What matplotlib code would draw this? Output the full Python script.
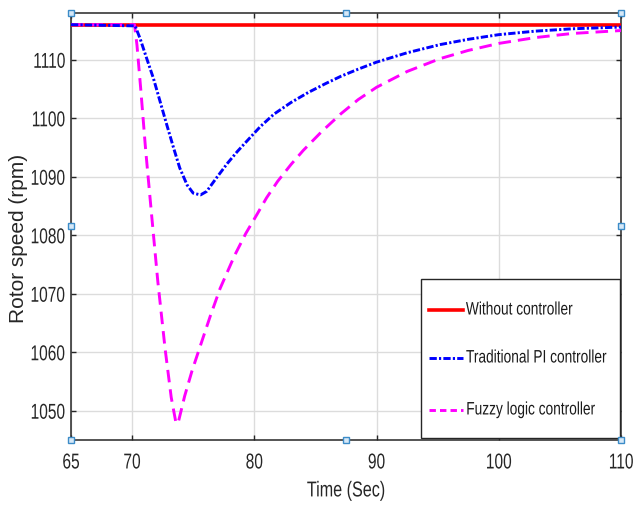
import matplotlib.pyplot as plt
from matplotlib import patheffects
from matplotlib.patches import Rectangle
from matplotlib.lines import Line2D
from matplotlib.transforms import Affine2D, Bbox

# Rotor speed response after a load disturbance at t = 70 s
t_none = [65, 110]
rpm_none = [1116, 1116]

t_pi = [65, 70.25, 70.66, 71.2, 71.75, 72.3, 72.85, 73.4, 73.9, 74.5, 75.0,
        75.6, 76.1, 76.9, 77.8, 78.6, 79.7, 80.5, 81.6, 83.0, 84.4, 85.8,
        87.1, 88.5, 90.0, 92.5, 95.2, 97.5, 100.0, 103.0, 106.0, 110.0]
rpm_pi = [1116, 1115.8, 1113.6, 1110.2, 1106.8, 1102.8, 1098.8, 1094.9,
          1091.5, 1088.6, 1087.2, 1086.9, 1087.5, 1089.8, 1092.3, 1094.3,
          1096.8, 1098.6, 1100.7, 1102.7, 1104.4, 1105.9, 1107.2, 1108.4,
          1109.6, 1111.2, 1112.6, 1113.5, 1114.3, 1114.9, 1115.3, 1115.6]

t_fuzzy = [65, 70.2, 70.4, 70.7, 71.1, 71.6, 72.1, 72.7, 73.2, 73.6, 73.8,
           74.3, 74.9, 75.6, 76.4, 77.2, 78.4, 79.3, 80.2, 81.0, 81.9, 83.0,
           84.0, 85.5, 87.1, 88.5, 90.0, 92.5, 95.2, 97.5, 100.0, 103.0,
           106.0, 110.0]
rpm_fuzzy = [1116, 1116, 1112.5, 1105.2, 1094.8, 1083.4, 1072.2, 1060.6,
             1052.3, 1047.8, 1048.2, 1052.5, 1056.8, 1061.2, 1066.2, 1070.9,
             1076.6, 1080.3, 1083.5, 1086.4, 1089.2, 1092.1, 1094.5, 1097.7,
             1100.8, 1103.2, 1105.3, 1108.0, 1110.2, 1111.6, 1112.8, 1113.8,
             1114.5, 1115.0]

labels = ['Without controller', 'Traditional PI controller', 'Fuzzy logic controller']
x_ticks = [65, 70, 80, 90, 100, 110]
y_ticks = [1050, 1060, 1070, 1080, 1090, 1100, 1110]


class Condense(patheffects.AbstractPathEffect):
    """Squeeze text horizontally along its baseline."""

    def __init__(self, sx=0.75, anchor='center'):
        super().__init__()
        self.sx = sx
        self.anchor = anchor

    def draw_path(self, renderer, gc, tpath, affine, rgbFace=None):
        ext = tpath.get_extents()
        if self.anchor == 'right':
            cx = ext.x1
        elif self.anchor == 'left':
            cx = ext.x0
        else:
            cx = 0.5 * (ext.x0 + ext.x1)
        t = Affine2D().translate(-cx, 0).scale(self.sx, 1).translate(cx, 0) + affine
        renderer.draw_path(gc, tpath, t, rgbFace)


def squeeze(text, sx, anchor='center'):
    # narrow glyphs and report the narrowed box for layout
    text.set_path_effects([Condense(sx, anchor)])
    full_extent = text.get_window_extent

    def extent(renderer=None, dpi=None):
        bb = full_extent(renderer, dpi)
        w = bb.width * sx
        if anchor == 'right':
            x0 = bb.x1 - w
        elif anchor == 'left':
            x0 = bb.x0
        else:
            x0 = 0.5 * (bb.x0 + bb.x1) - 0.5 * w
        return Bbox.from_bounds(x0, bb.y0, w, bb.height)

    text.get_window_extent = extent


plt.rcParams['font.family'] = ['Liberation Sans', 'DejaVu Sans']
ink = '#262626'

fig = plt.figure(figsize=(6.36, 5.08), dpi=100)
ax = fig.add_axes([0.1116, 0.1339, 0.8648, 0.8405])

ax.plot(t_none, rpm_none, color='#ff0000', lw=2.6, zorder=3)
ax.plot(t_fuzzy, rpm_fuzzy, color='#ff00ff', lw=2.1, dashes=(4.3, 2.4), zorder=4)
ax.plot(t_pi, rpm_pi, color='#0000ff', lw=2.1, dashes=(2.5, 0.75, 0.75, 0.75), zorder=5)

ax.set_xlim(65, 110)
ax.set_ylim(1045, 1118)
ax.set_xticks(x_ticks)
ax.set_yticks(y_ticks)
ax.tick_params(direction='in', length=3.6, width=1, colors=ink,
               labelsize=15.5, top=True, right=True)
ax.tick_params(axis='x', pad=9)
ax.tick_params(axis='y', pad=4)
ax.grid(True, color='#dcdcdc', lw=1)
for s in ax.spines.values():
    s.set_color(ink)
    s.set_linewidth(1.1)

for lab in ax.get_xticklabels():
    squeeze(lab, 0.72, 'center')
for lab in ax.get_yticklabels():
    squeeze(lab, 0.72, 'right')

ax.set_xlabel('Time (Sec)', fontsize=15.5, color=ink, labelpad=5)
squeeze(ax.xaxis.label, 0.75, 'center')
ax.set_ylabel('Rotor speed (rpm)', fontsize=15, color=ink)
ax.yaxis.set_label_coords(-0.079, 0.471)

# legend box in the lower right corner
ax.add_patch(Rectangle((0.6364, 0.0047), 0.3618, 0.3724, transform=ax.transAxes,
                       facecolor='white', edgecolor=ink, lw=1.0, zorder=10))
styles = [dict(color='#ff0000', lw=2.6),
          dict(color='#0000ff', lw=2.1, dashes=(2.5, 0.75, 0.75, 0.75)),
          dict(color='#ff00ff', lw=2.1, dashes=(2.2, 1.4))]
rows = [0.3044, 0.192, 0.0703]
for lab, st, yy in zip(labels, styles, rows):
    ax.add_line(Line2D([0.651, 0.7127], [yy, yy], transform=ax.transAxes,
                       zorder=11, **st))
    txt = ax.text(0.718, yy, lab, transform=ax.transAxes, fontsize=13,
                  color='#1a1a1a', va='center', ha='left', zorder=11)
    squeeze(txt, 0.76, 'left')

# selection handles round the axes box
hx = [0, 0.5, 1, 0, 1, 0, 0.5, 1]
hy = [1, 1, 1, 0.5, 0.5, 0, 0, 0]
ax.plot(hx, hy, ls='none', marker='s', ms=5, mfc='#d6e8f7', mec='#3c8cc8',
        mew=1, transform=ax.transAxes, clip_on=False, zorder=20)

fig.savefig('out.png', dpi=100)
